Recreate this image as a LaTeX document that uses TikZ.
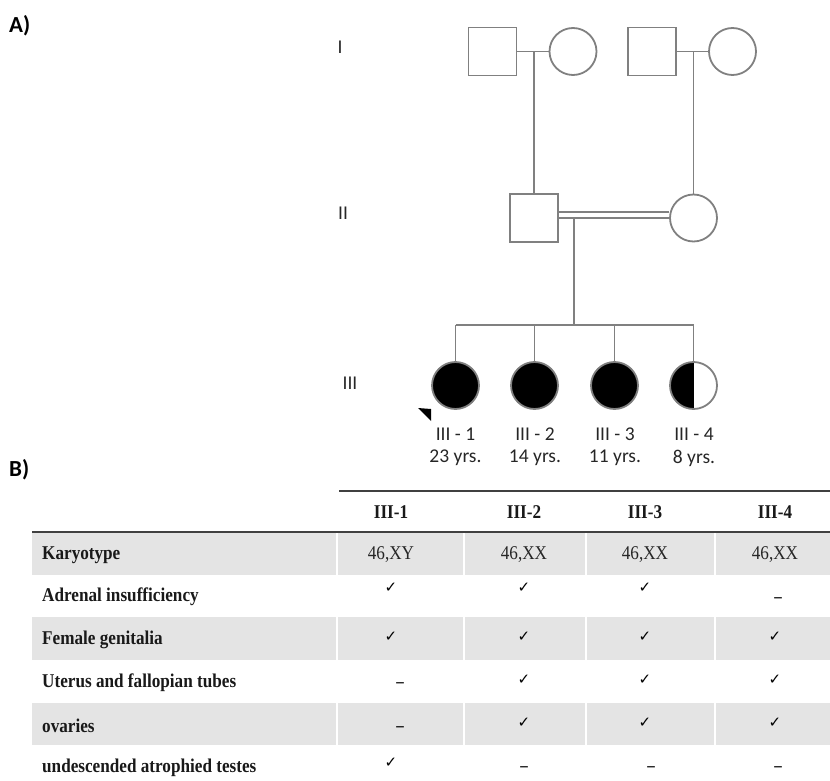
\documentclass[tikz,border=0pt]{standalone}
\usepackage{fontspec}
\setmainfont{Liberation Serif}
\newfontfamily\tabfont[FakeStretch=0.88]{Liberation Serif}
\newfontfamily\calfont{Carlito}
\newfontfamily\symfont{DejaVu Sans}
\definecolor{pedgray}{HTML}{808080}
\definecolor{rowgray}{HTML}{E4E4E4}
\definecolor{rulegray}{HTML}{404040}

\begin{document}
\begin{tikzpicture}[x=1pt,y=-1pt,
        male/.style={draw=pedgray, line width=1.8pt, minimum size=48pt, inner sep=0pt},
        female/.style={circle, draw=pedgray, line width=1.8pt, minimum size=47pt, inner sep=0pt},
        affected/.style={female, fill=black},
        carrier/.style={female, path picture={\fill[black] (path picture bounding box.south west) rectangle (path picture bounding box.north);}},
        link/.style={draw=pedgray, line width=1.8pt},
        pedtext/.style={font=\calfont\fontsize{19.5}{19.5}\selectfont, text=black!85, inner sep=0pt},
        panel/.style={font=\calfont\bfseries\fontsize{23}{23}\selectfont, anchor=west, inner sep=0pt},
        rowlabel/.style={font=\tabfont\bfseries\fontsize{19.5}{19.5}\selectfont, text=black!90, anchor=west, inner sep=0pt},
        colhead/.style={font=\tabfont\bfseries\fontsize{19.5}{19.5}\selectfont, text=black!90, inner sep=0pt},
        cell/.style={font=\tabfont\fontsize{19.5}{19.5}\selectfont, text=black!85, inner sep=0pt},
        chk/.style={font=\symfont\fontsize{15}{15}\selectfont, inner sep=0pt},
        nil/.style={font=\tabfont\bfseries\fontsize{17}{17}\selectfont, inner sep=0pt}]

                \useasboundingbox (0,0) rectangle (830,781);

                \node[panel] (pa) at (9,26) {A)};
                \node[panel] (pb) at (9,470) {B)};

                \node[pedtext] (g1) at (340,47) {I};
                \node[pedtext] (g2) at (343,213) {II};
                \node[pedtext] (g3) at (350,383) {III};

                \node[male] (f1) at (492.5,51.5) {};
                \node[female] (m1) at (573,51.5) {};
                \node[male] (f2) at (652,51.5) {};
                \node[female] (m2) at (732.5,51.5) {};
                \coordinate (c1) at (534,51.5);
                \coordinate (c2) at (693.5,51.5);
                \draw[link] (f1.east) -- (m1.west);
                \draw[link] (f2.east) -- (m2.west);

                \node[male] (p1) at (534,218) {};
                \node[female] (p2) at (693.5,218) {};
                \draw[link] (c1) -- (p1.north);
                \draw[link] (c2) -- (p2.north);
                \draw[link, double=white, double distance=4.5pt] ([yshift=3pt]p1.east) -- ([yshift=3pt]p2.west);

                \coordinate (c3) at (574,218.5);
                \coordinate (c4) at (574,325);
                \coordinate (s1) at (455.5,325);
                \coordinate (s2) at (534.5,325);
                \coordinate (s3) at (614.5,325);
                \coordinate (s4) at (693.5,325);
                \draw[link] (c3) -- (c4);
                \draw[link] (s1) -- (s4);

                \node[affected] (k1) at (455.5,385.5) {};
                \node[affected] (k2) at (534.5,385.5) {};
                \node[affected] (k3) at (614.5,385.5) {};
                \node[carrier] (k4) at (693.5,385.5) {};
                \draw[link] (s1) -- (k1.north);
                \draw[link] (s2) -- (k2.north);
                \draw[link] (s3) -- (k3.north);
                \draw[link] (s4) -- (k4.north);
                \fill[black] (418,408) -- (431,409) -- (431,421) -- cycle;

                \node[pedtext] (n1) at (455.5,434) {III - 1};
                \node[pedtext] (n2) at (535,434) {III - 2};
                \node[pedtext] (n3) at (615,434) {III - 3};
                \node[pedtext] (n4) at (694,434) {III - 4};
                \node[pedtext] (a1) at (455.5,458) {23 yrs.};
                \node[pedtext] (a2) at (535,458) {14 yrs.};
                \node[pedtext] (a3) at (615,458) {11 yrs.};
                \node[pedtext] (a4) at (694,458) {8 yrs.};

                \fill[rowgray] (32,532) rectangle (830,575);
                \fill[rowgray] (32,617) rectangle (830,660);
                \fill[rowgray] (32,703) rectangle (830,745);
                \draw[white, line width=1.5pt] (337,532) -- (337,575) (464,532) -- (464,575) (586,532) -- (586,575) (715,532) -- (715,575);
                \draw[white, line width=1.5pt] (337,617) -- (337,660) (464,617) -- (464,660) (586,617) -- (586,660) (715,617) -- (715,660);
                \draw[white, line width=1.5pt] (337,703) -- (337,745) (464,703) -- (464,745) (586,703) -- (586,745) (715,703) -- (715,745);
                \draw[rulegray, line width=1.5pt] (339,491) -- (830,491);
                \draw[rulegray, line width=1.5pt] (32,532) -- (830,532);

                \node[colhead] (h1) at (391,512) {III-1};
                \node[colhead] (h2) at (524,512) {III-2};
                \node[colhead] (h3) at (645,512) {III-3};
                \node[colhead] (h4) at (775,512) {III-4};

                \node[rowlabel] (r1) at (42,555) {Karyotype};
                \node[rowlabel] (r2) at (42,597) {Adrenal insufficiency};
                \node[rowlabel] (r3) at (42,640) {Female genitalia};
                \node[rowlabel] (r4) at (42,683) {Uterus and fallopian tubes};
                \node[rowlabel] (r5) at (42,726) {ovaries};
                \node[rowlabel] (r6) at (42,768) {undescended atrophied testes};

                \node[cell] (v11) at (391,555) {46,XY};
                \node[cell] (v12) at (524,555) {46,XX};
                \node[cell] (v13) at (645,555) {46,XX};
                \node[cell] (v14) at (775,555) {46,XX};

                \node[chk] (v21) at (391,588) {✓};
                \node[chk] (v22) at (524,588) {✓};
                \node[chk] (v23) at (645,588) {✓};
                \node[nil] (v24) at (778,598) {\_};

                \node[chk] (v31) at (391,637) {✓};
                \node[chk] (v32) at (524,637) {✓};
                \node[chk] (v33) at (645,637) {✓};
                \node[chk] (v34) at (775,637) {✓};

                \node[nil] (v41) at (400,683) {\_};
                \node[chk] (v42) at (524,680) {✓};
                \node[chk] (v43) at (645,680) {✓};
                \node[chk] (v44) at (775,680) {✓};

                \node[nil] (v51) at (400,727) {\_};
                \node[chk] (v52) at (524,723) {✓};
                \node[chk] (v53) at (645,723) {✓};
                \node[chk] (v54) at (775,723) {✓};

                \node[chk] (v61) at (391,763) {✓};
                \node[nil] (v62) at (524,767) {\_};
                \node[nil] (v63) at (651,767) {\_};
                \node[nil] (v64) at (778,767) {\_};
            \end{tikzpicture}
\end{document}
